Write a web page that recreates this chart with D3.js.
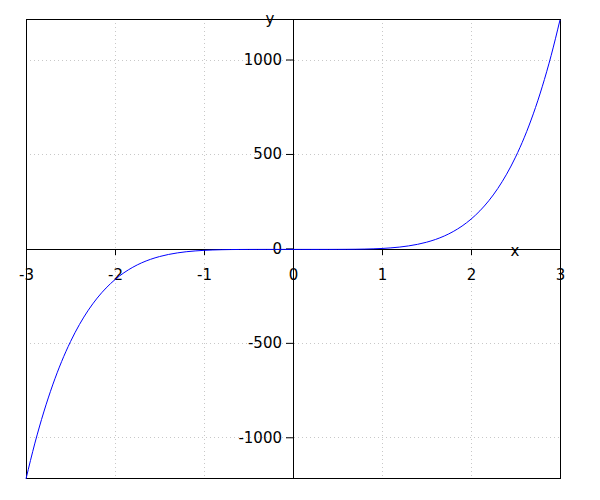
<!DOCTYPE html>
<html>
<head>
<meta charset="utf-8">
<script src="https://cdn.jsdelivr.net/npm/d3@7"></script>
<style>
  html, body { margin: 0; padding: 0; background: #fff; }
  svg { display: block; }
  text { font-family: "DejaVu Sans", sans-serif; font-size: 15px; fill: #000; }
</style>
</head>
<body>
<svg id="chart" width="600" height="500"></svg>
<script>
// Data
const xValues = [-3.0,-2.9,-2.8,-2.7,-2.6,-2.5,-2.4,-2.3,-2.2,-2.1,-2.0,-1.9,-1.8,-1.7,-1.6,-1.5,-1.4,-1.3,-1.2,-1.1,-1.0,-0.9,-0.8,-0.7,-0.6,-0.5,-0.4,-0.3,-0.2,-0.1,
  0.0,0.1,0.2,0.3,0.4,0.5,0.6,0.7,0.8,0.9,1.0,1.1,1.2,1.3,1.4,1.5,1.6,1.7,1.8,1.9,2.0,2.1,2.2,2.3,2.4,2.5,2.6,2.7,2.8,2.9,3.0];
const yValues = [-1215,-1025.6,-860.7,-717.5,-594.0,-488.3,-398.1,-321.8,-257.7,-204.2,-160,-123.8,-94.5,-71.0,-52.4,-38.0,-26.9,-18.6,-12.4,-8.1,-5,-2.95,-1.64,-0.84,-0.39,-0.16,-0.05,-0.01,0,0,
  0,0,0,0.01,0.05,0.16,0.39,0.84,1.64,2.95,5,8.1,12.4,18.6,26.9,38.0,52.4,71.0,94.5,123.8,160,204.2,257.7,321.8,398.1,488.3,594.0,717.5,860.7,1025.6,1215];
const xTicks = [-3,-2,-1,0,1,2,3];
const yTicks = [-1000,-500,0,500,1000];
const xGrid = [-2,-1,1,2];
const yGrid = [-1000,-500,500,1000];

const svg = d3.select("#chart");
const pLeft = 26, pRight = 560, pTop = 19, pBottom = 478;

const x = d3.scaleLinear().domain([-3, 3]).range([pLeft, pRight]);
const y = d3.scaleLinear().domain([-1215, 1215]).range([pBottom + 0.9, pTop + 0.9]);

// grid
const grid = svg.append("g");
grid.selectAll("line.gx").data(xGrid).join("line")
  .attr("x1", d => Math.round(x(d)) + 0.5).attr("x2", d => Math.round(x(d)) + 0.5)
  .attr("y1", pTop).attr("y2", pBottom)
  .attr("stroke", "#c8c8c8").attr("stroke-width", 1).attr("stroke-dasharray", "1,3");
grid.selectAll("line.gy").data(yGrid).join("line")
  .attr("y1", d => Math.round(y(d) - 1) + 0.5).attr("y2", d => Math.round(y(d) - 1) + 0.5)
  .attr("x1", pLeft).attr("x2", pRight)
  .attr("stroke", "#c8c8c8").attr("stroke-width", 1).attr("stroke-dasharray", "1,3");

// frame
svg.append("rect")
  .attr("x", pLeft + 0.5).attr("y", pTop + 0.5)
  .attr("width", pRight - pLeft).attr("height", pBottom - pTop)
  .attr("fill", "none").attr("stroke", "#000").attr("stroke-width", 1);

const x0 = Math.round(x(0)) + 0.5;
const y0 = Math.floor(y(0)) + 0.5;
const fmt = d => String(d);

// x axis through y=0
const xAxis = d3.axisBottom(x).tickValues(xTicks).tickSize(6).tickPadding(14)
  .tickFormat(fmt);
const gx = svg.append("g").attr("transform", `translate(0,${Math.floor(y(0))})`).call(xAxis);
gx.select(".domain").remove();
gx.selectAll("line").attr("stroke", "#000");
gx.selectAll("text").attr("font-size", null).attr("font-family", null).attr("fill", "#000");

svg.append("line").attr("x1", pLeft).attr("x2", pRight).attr("y1", y0).attr("y2", y0)
  .attr("stroke", "#000");

// y axis through x=0
const yAxis = d3.axisLeft(y).tickValues(yTicks).tickSize(7).tickPadding(4)
  .tickFormat(fmt);
const gy = svg.append("g").attr("transform", `translate(${Math.round(x(0))},-1)`).call(yAxis);
gy.select(".domain").remove();
gy.selectAll("line").attr("stroke", "#000");
gy.selectAll("text").attr("font-size", null).attr("font-family", null).attr("fill", "#000");

svg.append("line").attr("x1", x0).attr("x2", x0).attr("y1", pTop).attr("y2", pBottom)
  .attr("stroke", "#000");

// axis labels
svg.append("text").attr("x", 515).attr("y", 256).attr("text-anchor", "middle").text("x");
svg.append("text").attr("x", 270).attr("y", 24).attr("text-anchor", "middle").text("y");

// curve
const pts = xValues.map((v, i) => [v, yValues[i]]);
const line = d3.line().x(d => x(d[0])).y(d => y(d[1])).curve(d3.curveMonotoneX);
svg.append("path").datum(pts).attr("d", line)
  .attr("fill", "none").attr("stroke", "#0000ff").attr("stroke-width", 1);
</script>
</body>
</html>
